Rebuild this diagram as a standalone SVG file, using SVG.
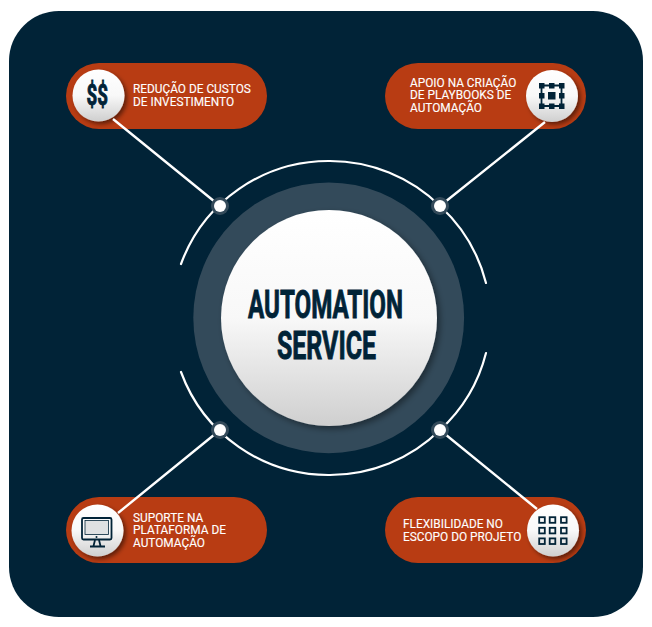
<svg xmlns="http://www.w3.org/2000/svg" width="652" height="627" viewBox="0 0 652 627">
<style>
.pill{fill:#b83c13}
.lbl{font:400 11.850px Roboto,"Liberation Sans",sans-serif;fill:#fff;stroke:#fff;stroke-width:.12}
.wire{stroke:#fff;stroke-width:2.4;fill:none}
.arc{stroke:#fff;stroke-width:2.2;fill:none;stroke-linecap:round}
.ic{fill:#012337}
.icl{fill:none;stroke:#012337;stroke-width:1.8}
.title{font:700 39px Roboto,"Liberation Sans",sans-serif;fill:#012337;stroke:#012337;stroke-width:.9}
.dollars{font:700 29px Roboto,"Liberation Sans",sans-serif;fill:#012337;stroke:#012337;stroke-width:.9}
</style>
<defs>
<linearGradient id="g" x1="0" y1="0" x2="0" y2="1"><stop offset="0" stop-color="#fff"/><stop offset=".5" stop-color="#f8f8f8"/><stop offset="1" stop-color="#cfcfcf"/></linearGradient>
<filter id="s" x="-30%" y="-30%" width="170%" height="170%"><feDropShadow dx="2.500" dy="2.500" stdDeviation="2" flood-color="#000" flood-opacity=".5"/></filter>
<filter id="c" x="-10%" y="-10%" width="125%" height="125%"><feDropShadow dx="3" dy="3" stdDeviation="3" flood-color="#000" flood-opacity=".4"/></filter>
</defs>
<rect x="9" y="11" width="634" height="606" rx="50" fill="#012337"/>
<circle cx="328.700" cy="317.800" r="135.400" fill="#334a5a"/>
<g id="node-custos">
<rect class="pill" x="66" y="63" width="201" height="66" rx="33"/>
<circle cx="98.500" cy="95.500" r="26" fill="url(#g)" filter="url(#s)"/>
<text class="dollars" x="86.500" y="105" textLength="21.500" lengthAdjust="spacingAndGlyphs">$$</text>
<text class="lbl"><tspan x="133" y="93">REDUÇÃO DE CUSTOS</tspan><tspan x="133" y="105.700">DE INVESTIMENTO</tspan></text>
</g>
<g id="node-playbooks">
<rect class="pill" x="385" y="63" width="201" height="66" rx="33"/>
<circle cx="552" cy="96" r="26" fill="url(#g)" filter="url(#s)"/>
<text class="lbl"><tspan x="410" y="86.700">APOIO NA CRIAÇÃO</tspan><tspan x="410" y="99.400">DE PLAYBOOKS DE</tspan><tspan x="410" y="112">AUTOMAÇÃO</tspan></text>
<path class="icl" d="M541.500 85.500H561.500V106H541.500Z"/>
<path class="ic" d="M539 83h5.500v5.500h-5.500zM549 83h5.500v5.500h-5.500zM559 83h5.500v5.500h-5.500zM539 93h5.500v5.500h-5.500zM559 93h5.500v5.500h-5.500zM539 103.500h5.500v5.500h-5.500zM549 103.500h5.500v5.500h-5.500zM559 103.500h5.500v5.500h-5.500zM548 92h7.500v7.500h-7.500z"/>
</g>
<g id="node-suporte">
<rect class="pill" x="66" y="497" width="201" height="66" rx="33"/>
<circle cx="97.500" cy="530.500" r="26" fill="url(#g)" filter="url(#s)"/>
<text class="lbl"><tspan x="133" y="521.700">SUPORTE NA</tspan><tspan x="133" y="534.300">PLATAFORMA DE</tspan><tspan x="133" y="547">AUTOMAÇÃO</tspan></text>
<rect class="icl" x="82" y="518" width="29.500" height="21.500" rx="1.500"/>
<rect x="85" y="520.500" width="23.500" height="14" fill="#dfe1e2" stroke="#012337" stroke-width=".8"/>
<circle class="ic" cx="96.500" cy="537" r="1"/>
<path class="icl" d="M95 540L93.500 546M99 540L100.500 546M90 546.500H105"/>
</g>
<g id="node-flex">
<rect class="pill" x="385" y="497" width="201" height="66" rx="33"/>
<circle cx="553" cy="530.500" r="26" fill="url(#g)" filter="url(#s)"/>
<text class="lbl"><tspan x="403" y="528">FLEXIBILIDADE NO</tspan><tspan x="403" y="541">ESCOPO DO PROJETO</tspan></text>
<g class="icl"><rect x="539.200" y="517.200" width="5.600" height="5.600"/><rect x="549.700" y="517.200" width="5.600" height="5.600"/><rect x="561" y="517.200" width="5.600" height="5.600"/><rect x="539.200" y="527.800" width="5.600" height="5.600"/><rect x="549.700" y="527.800" width="5.600" height="5.600"/><rect x="561" y="527.800" width="5.600" height="5.600"/><rect x="539.200" y="538.400" width="5.600" height="5.600"/><rect x="549.700" y="538.400" width="5.600" height="5.600"/><rect x="561" y="538.400" width="5.600" height="5.600"/></g>
</g>
<g id="connectors">
<path class="arc" d="M181 264A157 157 0 0 1 329 161A157 157 0 0 1 440 206A157 157 0 0 1 486 283"/>
<path class="arc" d="M181 372A157 157 0 0 0 329 475A157 157 0 0 0 440 430A157 157 0 0 0 486 353"/>
<path class="wire" d="M113 119L220 206M440 206L545 122M220 430L118 513M440 430L537 509"/>
</g>
<g id="dots">
<g fill="#334a5a"><circle cx="220" cy="206" r="9"/><circle cx="440" cy="206" r="9"/><circle cx="220" cy="430" r="9"/><circle cx="440" cy="430" r="9"/></g>
<g fill="#fff"><circle cx="220" cy="206" r="6"/><circle cx="440" cy="206" r="6"/><circle cx="220" cy="430" r="6"/><circle cx="440" cy="430" r="6"/></g>
</g>
<g id="center">
<circle cx="329" cy="318" r="108" fill="url(#g)" filter="url(#c)"/>
<text class="title" x="248" y="317.700" textLength="155" lengthAdjust="spacingAndGlyphs">AUTOMATION</text>
<text class="title" x="277" y="359" textLength="99" lengthAdjust="spacingAndGlyphs">SERVICE</text>
</g>
</svg>
